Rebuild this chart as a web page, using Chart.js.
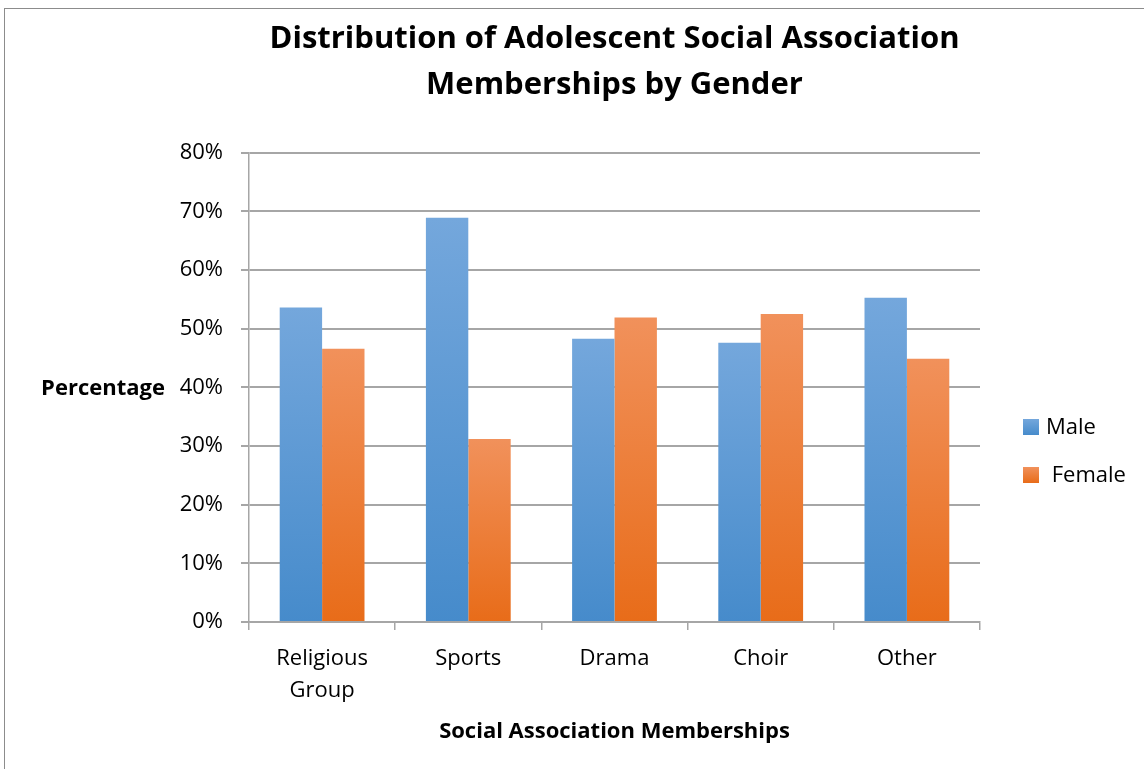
<!DOCTYPE html>
<html>
<head>
<meta charset="utf-8">
<title>Distribution of Adolescent Social Association Memberships by Gender</title>
<script src="https://cdn.jsdelivr.net/npm/chart.js@4.4.0/dist/chart.umd.min.js"></script>
<style>
    html, body { margin: 0; padding: 0; background: #fff; overflow: hidden; }
    #frame { position: absolute; left: 4px; top: 8px; width: 1300px; height: 900px; border: 1px solid #8c8c8c; }
    #chart { position: absolute; left: 0; top: 0; }
</style>
</head>
<body>
<div id="frame"></div>
<canvas id="chart" width="1144" height="769"></canvas>
<script>
const categories = [['Religious', 'Group'], 'Sports', 'Drama', 'Choir', 'Other'];
const maleValues = [53.6, 68.9, 48.3, 47.6, 55.3];
const femaleValues = [46.6, 31.2, 51.9, 52.5, 44.9];
const yTicks = [0, 10, 20, 30, 40, 50, 60, 70, 80];

const FONT = '"Open Sans"';
const maleColors = ['#74a7dc', '#468bcb'];
const femaleColors = ['#f1915b', '#e86c19'];

// vertical gradient for each bar, light at the top, darker at the base
function barGradient(colors) {
    return (ctx) => {
        const chart = ctx.chart;
        if (!chart.chartArea || ctx.type !== 'data') return colors[1];
        const y = chart.scales.y;
        const top = y.getPixelForValue(ctx.raw);
        const base = y.getPixelForValue(0);
        const g = chart.ctx.createLinearGradient(0, top, 0, base);
        g.addColorStop(0, colors[0]);
        g.addColorStop(1, colors[1]);
        return g;
    };
}

// horizontal y axis title and legend on the right
const sideLabels = {
    id: 'sideLabels',
    afterDraw(chart) {
        const ctx = chart.ctx;
        const area = chart.chartArea;
        ctx.save();
        ctx.fillStyle = '#000';
        ctx.font = 'bold 22px ' + FONT;
        ctx.textAlign = 'center';
        ctx.textBaseline = 'middle';
        ctx.fillText('Percentage', 103, (area.top + area.bottom) / 2 + 1);

        const rows = [427, 475];
        ctx.font = '22px ' + FONT;
        ctx.textAlign = 'left';
        chart.data.datasets.forEach((ds, i) => {
            const y = rows[i];
            const cols = i === 0 ? maleColors : femaleColors;
            const g = ctx.createLinearGradient(0, y - 8, 0, y + 8);
            g.addColorStop(0, cols[0]);
            g.addColorStop(1, cols[1]);
            ctx.fillStyle = g;
            ctx.fillRect(1023, y - 8, 16, 16);
            ctx.fillStyle = '#000';
            ctx.fillText(ds.label, 1046, y + 1);
        });
        ctx.restore();
    }
};

const ctx = document.getElementById('chart').getContext('2d');
const chart = new Chart(ctx, {
    type: 'bar',
    data: {
        labels: categories,
        datasets: [{
            label: 'Male',
            data: maleValues,
            backgroundColor: barGradient(maleColors),
            borderWidth: 0
        }, {
            label: ' Female',
            data: femaleValues,
            backgroundColor: barGradient(femaleColors),
            borderWidth: 0
        }]
    },
    options: {
        responsive: false,
        animation: false,
        events: [],
        categoryPercentage: 0.58,
        barPercentage: 1,
        layout: {
            padding: { left: 0, right: 164, top: 0, bottom: 0 }
        },
        plugins: {
            legend: { display: false },
            tooltip: { enabled: false },
            title: {
                display: true,
                fullSize: false,
                text: ['Distribution of Adolescent Social Association', 'Memberships by Gender'],
                color: '#000',
                font: { family: FONT, size: 31, weight: 'bold', lineHeight: 1.48 },
                padding: { top: 16, bottom: 45 }
            }
        },
        scales: {
            x: {
                grid: {
                    display: true,
                    drawOnChartArea: false,
                    drawTicks: true,
                    tickLength: 8,
                    color: '#a6a6a6',
                    lineWidth: 1.5
                },
                border: { display: true, color: '#a6a6a6', width: 1.5 },
                ticks: {
                    color: '#000',
                    font: { family: FONT, size: 22, lineHeight: 1.45 },
                    padding: 13,
                    maxRotation: 0,
                    minRotation: 0
                },
                title: {
                    display: true,
                    text: 'Social Association Memberships',
                    color: '#000',
                    font: { family: FONT, size: 22, weight: 'bold', lineHeight: 1.2 },
                    padding: { top: 12, bottom: 24 }
                },
                afterFit: (s) => { s.height = 147; }
            },
            y: {
                min: 0,
                max: 80,
                afterBuildTicks: (s) => { s.ticks = yTicks.map(v => ({ value: v })); },
                grid: {
                    color: '#a6a6a6',
                    lineWidth: 2,
                    tickLength: 8
                },
                border: { display: true, color: '#a6a6a6', width: 1.5 },
                ticks: {
                    color: '#000',
                    font: { family: FONT, size: 22 },
                    padding: 18,
                    callback: (v) => v + '%'
                },
                afterFit: (s) => { s.width = 249; }
            }
        }
    },
    plugins: [sideLabels]
});
</script>
</body>
</html>
